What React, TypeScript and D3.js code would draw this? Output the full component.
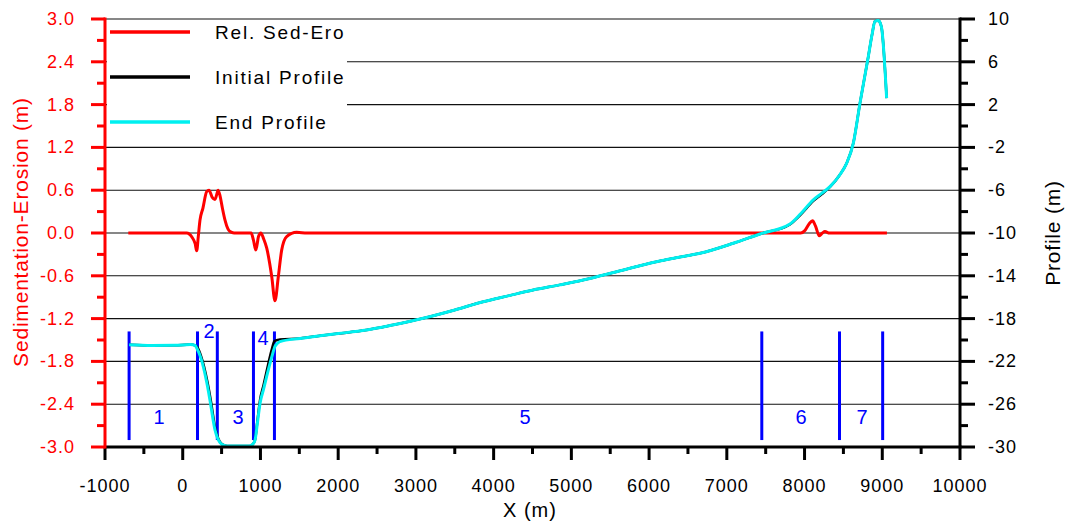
import React from "react";
import * as d3 from "d3";

// ---------- data ----------
const sedX = [-700, 51, 120, 160, 180, 200, 222, 260, 308, 338, 380, 415, 440, 454, 480, 510, 544, 580, 608, 660, 880, 910, 940, 975, 1005, 1040, 1080, 1145, 1187, 1230, 1273, 1337, 1466, 1600, 7950, 8000, 8060, 8103, 8140, 8190, 8230, 8263, 8320, 9060];
const sedY = [0, 0, -0.06, -0.15, -0.25, -0.05, 0.18, 0.35, 0.58, 0.6, 0.5, 0.47, 0.55, 0.6, 0.52, 0.35, 0.18, 0.06, 0.02, 0, 0, -0.1, -0.24, -0.05, 0, -0.08, -0.21, -0.61, -0.95, -0.61, -0.24, -0.05, 0.01, 0, 0, 0.03, 0.13, 0.17, 0.1, -0.04, 0.0, 0.02, 0, 0];

const endX = [-690, -400, -100, 100, 160, 180, 230, 265, 310, 350, 415, 450, 480, 530, 565, 860, 900, 930, 960, 995, 1040, 1080, 1145, 1187, 1220, 1250, 1510, 1766, 2000, 2365, 2700, 3095, 3500, 3866, 4200, 4509, 4850, 5153, 5582, 6096, 6400, 6655, 7084, 7427, 7812, 7950, 8113, 8220, 8327, 8450, 8541, 8627, 8713, 8820, 8870, 8906, 8949, 8975, 8992, 9056];
const endY = [-20.45, -20.52, -20.5, -20.42, -20.5, -20.75, -21.6, -22.5, -24.0, -25.6, -28.4, -29.2, -29.6, -29.85, -29.9, -29.9, -29.75, -29.35, -27.8, -25.9, -24.6, -23.4, -21.6, -20.6, -20.3, -20.15, -19.85, -19.6, -19.4, -19.07, -18.6, -17.97, -17.2, -16.42, -15.85, -15.33, -14.85, -14.39, -13.62, -12.68, -12.25, -11.9, -10.96, -10.09, -9.16, -8.2, -6.9, -6.3, -5.67, -4.6, -3.49, -1.62, 2.12, 6.48, 8.6, 9.79, 9.86, 9.6, 9.16, 2.6];

const initX = [-690, -400, -100, 100, 160, 190, 240, 275, 320, 360, 422, 457, 487, 537, 572, 860, 900, 930, 960, 995, 1040, 1080, 1145, 1180, 1220, 1250, 1510, 1766, 2000, 2365, 2700, 3095, 3500, 3866, 4200, 4509, 4850, 5153, 5582, 6096, 6400, 6655, 7084, 7427, 7812, 7950, 8113, 8220, 8327, 8450, 8541, 8627, 8713, 8820, 8870, 8906, 8949, 8975, 8992, 9056];
const initY = [-20.45, -20.52, -20.5, -20.42, -20.5, -20.7, -21.6, -22.5, -24.0, -25.6, -28.4, -29.2, -29.6, -29.85, -29.9, -29.9, -29.75, -29.35, -27.6, -25.6, -24.2, -22.9, -20.9, -20.1, -20.0, -19.95, -19.85, -19.6, -19.4, -19.07, -18.6, -17.97, -17.2, -16.42, -15.85, -15.33, -14.85, -14.39, -13.62, -12.68, -12.25, -11.9, -10.96, -10.09, -9.2, -8.28, -7.0, -6.38, -5.7, -4.6, -3.49, -1.62, 2.12, 6.48, 8.6, 9.79, 9.86, 9.6, 9.16, 2.6];

const zoneLineX = [-690, 190, 445, 910, 1180, 7450, 8450, 9005];
const zoneLineTop = -19.2;
const zoneLineBottom = -29.35;
const zoneLabels = ["1", "2", "3", "4", "5", "6", "7"];
const zoneLabelX = [-305, 338, 711, 1033, 4403, 7954, 8739];
const zoneLabelY = [-27.2, -19.2, -27.2, -19.8, -27.2, -27.2, -27.2];

const xTicks = [-1000, 0, 1000, 2000, 3000, 4000, 5000, 6000, 7000, 8000, 9000, 10000];
const leftTicks = [3.0, 2.4, 1.8, 1.2, 0.6, 0.0, -0.6, -1.2, -1.8, -2.4, -3.0];
const rightTicks = [10, 6, 2, -2, -6, -10, -14, -18, -22, -26, -30];

const legendLabels = ["Rel. Sed-Ero", "Initial Profile", "End Profile"];
const legendColors = ["#ff0000", "#000000", "#00f0f0"];

// ---------- layout ----------
const W = 1071, H = 524;
const L = 105, R = 960, T = 19, B = 447;
const FONT = "'Liberation Sans', Arial, sans-serif";

export default function App() {
  const x = d3.scaleLinear().domain([-1000, 10000]).range([L, R]);
  const yL = d3.scaleLinear().domain([-3, 3]).range([B, T]);
  const yR = d3.scaleLinear().domain([-30, 10]).range([B, T]);

  const sedLine = d3.line<number>().x((_, i) => x(sedX[i])).y((d) => yL(d)).curve(d3.curveMonotoneX);
  const profLineEnd = d3.line<number>().x((_, i) => x(endX[i])).y((d) => yR(d)).curve(d3.curveMonotoneX);
  const profLineInit = d3.line<number>().x((_, i) => x(initX[i])).y((d) => yR(d)).curve(d3.curveMonotoneX);

  const xMinor = d3.range(-500, 10000, 1000);
  const leftMinor = d3.range(-2.7, 3, 0.6);
  const rightMinor = d3.range(-28, 10, 4);

  const legendY = [32, 77, 122];

  return (
    <svg width={W} height={H} style={{ position: "absolute", left: 0, top: 0, background: "#fff" }} fontFamily={FONT}>
      <rect x={0} y={0} width={W} height={H} fill="#fff" />
      {/* grid lines */}
      {leftTicks.map((t) => (
        <line key={"g" + t} x1={L} x2={R} y1={yL(t)} y2={yL(t)} stroke="#111" strokeWidth={1.1} />
      ))}

      {/* legend background */}
      <rect x={L + 2} y={T + 3} width={240} height={118} fill="#fff" />

      {/* zone lines */}
      {zoneLineX.map((v, i) => (
        <line key={"z" + i} x1={x(v)} x2={x(v)} y1={yR(zoneLineTop)} y2={yR(zoneLineBottom)} stroke="#0000ff" strokeWidth={3} />
      ))}
      {zoneLabels.map((s, i) => (
        <text key={"zl" + i} x={x(zoneLabelX[i])} y={yR(zoneLabelY[i])} fill="#0000ff" fontSize={20} textAnchor="middle" dominantBaseline="central">{s}</text>
      ))}

      {/* series */}
      <path d={sedLine(sedY) || ""} fill="none" stroke="#ff0000" strokeWidth={3} strokeLinejoin="round" />
      <path d={profLineInit(initY) || ""} fill="none" stroke="#000" strokeWidth={2.5} strokeLinejoin="round" />
      <path d={profLineEnd(endY) || ""} fill="none" stroke="#00f0f0" strokeWidth={3} strokeLinejoin="round" />

      {/* legend */}
      {legendLabels.map((s, i) => (
        <g key={"lg" + i}>
          <line x1={110} x2={190} y1={legendY[i]} y2={legendY[i]} stroke={legendColors[i]} strokeWidth={3.5} />
          <text x={215} y={legendY[i]} fontSize={19} letterSpacing={1.8} fill="#000" dominantBaseline="central">{s}</text>
        </g>
      ))}

      {/* bottom axis */}
      <line x1={L} x2={R + 1.5} y1={B} y2={B} stroke="#000" strokeWidth={3} />
      {xTicks.map((t) => (
        <g key={"xt" + t}>
          <line x1={x(t)} x2={x(t)} y1={B} y2={B + 13} stroke="#000" strokeWidth={3} />
          <text x={x(t)} y={492} fontSize={18} letterSpacing={1} textAnchor="middle" fill="#000">{String(t)}</text>
        </g>
      ))}
      {xMinor.map((t) => (
        <line key={"xm" + t} x1={x(t)} x2={x(t)} y1={B} y2={B + 7} stroke="#000" strokeWidth={3} />
      ))}
      <text x={530} y={517} fontSize={20} letterSpacing={1} textAnchor="middle" fill="#000">X (m)</text>

      {/* right axis */}
      <line x1={R} x2={R} y1={T - 1.5} y2={B} stroke="#000" strokeWidth={3} />
      {rightTicks.map((t) => (
        <g key={"rt" + t}>
          <line x1={R} x2={R + 15} y1={yR(t)} y2={yR(t)} stroke="#000" strokeWidth={3} />
          <text x={988} y={yR(t)} fontSize={18} letterSpacing={1} fill="#000" dominantBaseline="central">{String(t)}</text>
        </g>
      ))}
      {rightMinor.map((t) => (
        <line key={"rm" + t} x1={R} x2={R + 8} y1={yR(t)} y2={yR(t)} stroke="#000" strokeWidth={3} />
      ))}
      <text transform={`translate(1052,233) rotate(-90)`} fontSize={21} letterSpacing={0.8} textAnchor="middle" dominantBaseline="central" fill="#000">Profile (m)</text>

      {/* left axis */}
      <line x1={L} x2={L} y1={T - 1.5} y2={B + 1.5} stroke="#ff0000" strokeWidth={3} />
      {leftTicks.map((t) => (
        <g key={"lt" + t}>
          <line x1={L - 14} x2={L} y1={yL(t)} y2={yL(t)} stroke="#ff0000" strokeWidth={3} />
          <text x={75} y={yL(t)} fontSize={18} letterSpacing={1} textAnchor="end" fill="#ff0000" dominantBaseline="central">{t.toFixed(1)}</text>
        </g>
      ))}
      {leftMinor.map((t) => (
        <line key={"lm" + t} x1={L - 8} x2={L} y1={yL(t)} y2={yL(t)} stroke="#ff0000" strokeWidth={3} />
      ))}
      <text transform={`translate(20,232) rotate(-90)`} fontSize={21} letterSpacing={0.8} textAnchor="middle" dominantBaseline="central" fill="#ff0000">Sedimentation-Erosion (m)</text>
    </svg>
  );
}
